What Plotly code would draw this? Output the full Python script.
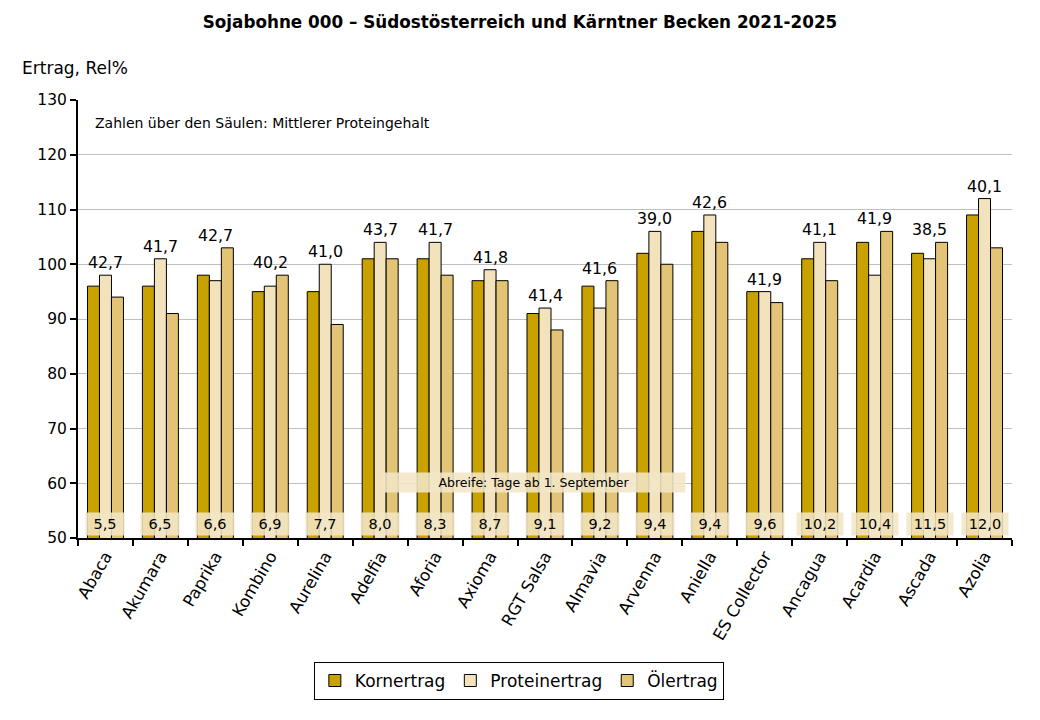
import plotly.graph_objects as go

categories = ["Abaca", "Akumara", "Paprika", "Kombino", "Aurelina", "Adelfia", "Aforia",
              "Axioma", "RGT Salsa", "Almavia", "Arvenna", "Aniella", "ES Collector",
              "Ancagua", "Acardia", "Ascada", "Azolia"]
kornertrag = [96, 96, 98, 95, 95, 101, 101, 97, 91, 96, 102, 106, 95, 101, 104, 102, 109]
proteinertrag = [98, 101, 97, 96, 100, 104, 104, 99, 92, 92, 106, 109, 95, 104, 98, 101, 112]
oelertrag = [94, 91, 103, 98, 89, 101, 98, 97, 88, 97, 100, 104, 93, 97, 106, 104, 103]
proteingehalt = [42.7, 41.7, 42.7, 40.2, 41.0, 43.7, 41.7, 41.8, 41.4, 41.6, 39.0, 42.6,
                 41.9, 41.1, 41.9, 38.5, 40.1]
abreife = [5.5, 6.5, 6.6, 6.9, 7.7, 8.0, 8.3, 8.7, 9.1, 9.2, 9.4, 9.4, 9.6, 10.2, 10.4, 11.5, 12.0]

FONT = "DejaVu Sans"
C_KORN = "#C9A200"
C_PROT = "#F2E3BC"
C_OEL = "#E3C477"

fig = go.Figure()
for name, vals, col in [("Kornertrag", kornertrag, C_KORN),
                        ("Proteinertrag", proteinertrag, C_PROT),
                        ("Ölertrag", oelertrag, C_OEL)]:
    fig.add_trace(go.Bar(x=categories, y=vals, name=name,
                         marker=dict(color=col, line=dict(color="black", width=1))))

def de(v):
    return f"{v:.1f}".replace(".", ",")

annotations = []
for i, c in enumerate(categories):
    top = max(kornertrag[i], proteinertrag[i], oelertrag[i])
    annotations.append(dict(x=c, y=top, xref="x", yref="y", text=de(proteingehalt[i]),
                            showarrow=False, yanchor="bottom", yshift=1,
                            font=dict(family=FONT, size=15.8, color="black")))
    txt = de(abreife[i])
    annotations.append(dict(x=c, y=52.6, xref="x", yref="y", text=txt, showarrow=False,
                            yanchor="middle", width=36 if len(txt) <= 3 else 44, height=20,
                            bgcolor="rgba(243,230,198,0.88)",
                            font=dict(family=FONT, size=14.5, color="black")))

annotations.append(dict(x=0.488, y=60.1, xref="paper", yref="y",
                        text="Abreife: Tage ab 1. September", showarrow=False,
                        width=300, height=17, bgcolor="rgba(243,230,198,0.88)",
                        font=dict(family=FONT, size=12.5, color="black")))
annotations.append(dict(x=0.016, y=0.947, xref="paper", yref="paper", xanchor="left",
                        yanchor="middle",
                        text="Zahlen über den Säulen: Mittlerer Proteingehalt",
                        showarrow=False, font=dict(family=FONT, size=14, color="black")))
annotations.append(dict(x=-0.062, y=1.072, xref="paper", yref="paper", xanchor="left",
                        yanchor="middle", text="Ertrag, Rel%", showarrow=False,
                        font=dict(family=FONT, size=17, color="black")))

fig.update_layout(
    width=1040, height=720,
    margin=dict(l=78, r=28, t=100, b=182),
    paper_bgcolor="white", plot_bgcolor="white",
    title=dict(text="<b>Sojabohne 000 – Südostösterreich und Kärntner Becken 2021-2025</b>",
               x=0.5, xanchor="center", y=0.969, yanchor="middle",
               font=dict(family=FONT, size=16.8, color="black")),
    barmode="group", bargap=0.345, bargroupgap=0,
    font=dict(family=FONT, size=14, color="black"),
    legend=dict(orientation="h", x=0.472, xanchor="center", y=-0.283, yanchor="top",
                bordercolor="black", borderwidth=1, bgcolor="white",
                font=dict(family=FONT, size=17, color="black"),
                itemwidth=30, traceorder="normal"),
    annotations=annotations,
    xaxis=dict(type="category", tickangle=-60, showline=True, linecolor="black", linewidth=2,
               ticks="outside", tickson="boundaries", ticklen=6, tickwidth=2, tickcolor="black",
               showgrid=False, tickfont=dict(family=FONT, size=16.5, color="black")),
    yaxis=dict(range=[50, 130], dtick=10, showline=True, linecolor="black", linewidth=2,
               ticks="outside", ticklen=6, tickwidth=2, tickcolor="black",
               showgrid=True, gridcolor="#BFBFBF", gridwidth=1, zeroline=False,
               tickfont=dict(family=FONT, size=15.5, color="black")),
)

fig.write_html("out.html")
